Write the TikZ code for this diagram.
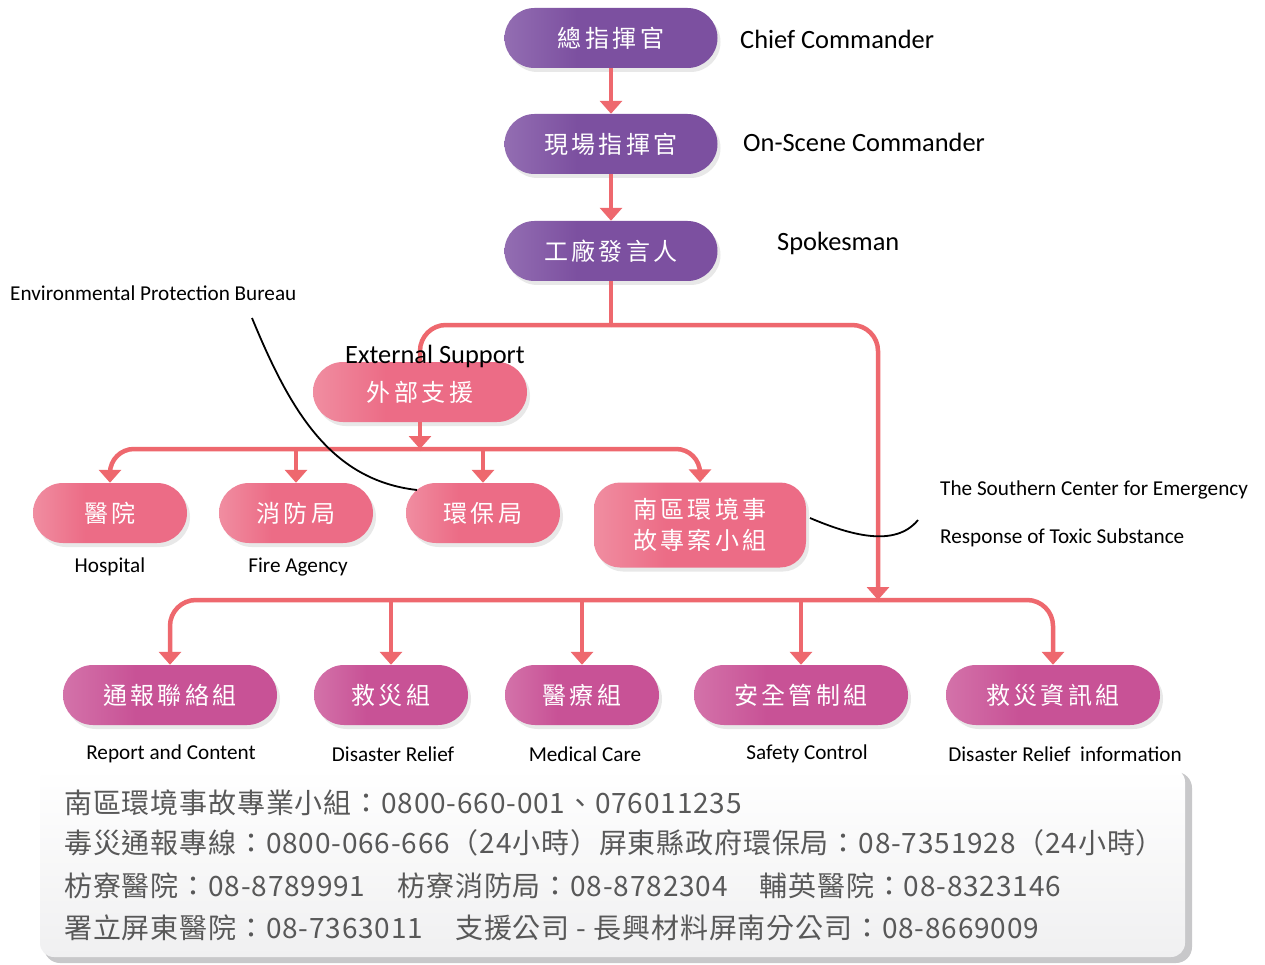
\documentclass[tikz,border=0pt]{standalone}
\usepackage{fontspec}
\setmainfont{Carlito}
\newfontfamily\cjk[LetterSpace=14]{Noto Sans CJK TC}
\newfontfamily\infofont[LetterSpace=3]{Noto Sans CJK TC}
\usetikzlibrary{arrows.meta,shadows}

\definecolor{linkred}{RGB}{238,104,110}
\definecolor{purpD}{RGB}{124,80,160}
\definecolor{purpL}{RGB}{180,152,204}
\definecolor{pinkD}{RGB}{236,108,134}
\definecolor{pinkL}{RGB}{246,190,200}
\definecolor{magD}{RGB}{200,82,150}
\definecolor{magL}{RGB}{228,162,198}
\definecolor{infotext}{RGB}{88,88,88}
\definecolor{boxedge}{RGB}{200,200,202}
\definecolor{boxfill}{RGB}{240,240,241}

\pgfdeclarehorizontalshading{purpshade}{100bp}{color(0bp)=(purpL); color(42bp)=(purpD); color(100bp)=(purpD)}
\pgfdeclarehorizontalshading{pinkshade}{100bp}{color(0bp)=(pinkL); color(42bp)=(pinkD); color(100bp)=(pinkD)}
\pgfdeclarehorizontalshading{magshade}{100bp}{color(0bp)=(magL); color(42bp)=(magD); color(100bp)=(magD)}

\begin{document}
\begin{tikzpicture}[x=1pt,y=-1pt,
  pill/.style={rounded corners=30pt, minimum height=60pt, inner sep=0pt,
    text=white, font=\cjk\fontsize{24}{30}\selectfont, align=center,
    drop shadow={opacity=0.18, shadow xshift=3pt, shadow yshift=-4pt}},
  cmdpill/.style={pill, shade, shading=purpshade, minimum width=213pt},
  extpill/.style={pill, shade, shading=pinkshade, minimum width=154pt},
  grppill/.style={pill, shade, shading=magshade, minimum width=154pt},
  biglabel/.style={font=\fontsize{26.4}{30}\selectfont, text=black, inner sep=0pt},
  smalllabel/.style={font=\fontsize{21.2}{25}\selectfont, text=black, inner sep=0pt},
  infoline/.style={font=\infofont\fontsize{28}{32}\selectfont, text=infotext, inner sep=0pt, anchor=west},
  link/.style={draw=linkred, line width=4.5pt},
  linkarrow/.style={link, -{Triangle[width=22pt,length=13pt]}},
  pointer/.style={draw=black, line width=1.8pt},
]
\fill[white] (0,0) rectangle (1265,965);
\useasboundingbox (0,0) rectangle (1265,965);

% ---- contact information panel ----
\fill[boxedge, rounded corners=16pt] (44,772) rectangle (1192,963);
\shade[top color=white, bottom color=boxfill, rounded corners=14pt] (40,768) rectangle (1185,957);

% ---- command chain ----
\node[cmdpill] (chief)   at (611,38)  {總指揮官};
\node[cmdpill] (onscene) at (611,144) {現場指揮官};
\node[cmdpill] (spokes)  at (611,251) {工廠發言人};

\node[biglabel, anchor=west] (chiefL)   at (740,39)  {Chief Commander};
\node[biglabel, anchor=west] (onsceneL) at (743,142) {On-Scene Commander};
\node[biglabel, anchor=west] (spokesL)  at (777,243) {Spokesman};

% ---- external support ----
\node[extpill, minimum width=214pt] (ext) at (420,392) {外部支援};
\node[extpill] (hosp) at (110,513) {醫院};
\node[extpill] (fire) at (296,513) {消防局};
\node[extpill] (epb)  at (483,513) {環保局};
\node[extpill, minimum width=212pt, minimum height=85pt, rounded corners=26pt,
      font=\cjk\fontsize{24}{31}\selectfont] (south) at (700,525) {南區環境事\\故專案小組};

\node[smalllabel] (hospL) at (110,567) {Hospital};
\node[smalllabel] (fireL) at (298,567) {Fire Agency};
\node[smalllabel, anchor=west] (epbL) at (10,293) {Environmental Protection Bureau};
\node[smalllabel, anchor=west] (southL1) at (940,490) {The Southern Center for Emergency};
\node[smalllabel, anchor=west] (southL2) at (940,538) {Response of Toxic Substance};

% ---- on-site groups ----
\node[grppill, minimum width=214pt] (g1) at (170,695)  {通報聯絡組};
\node[grppill]                      (g2) at (391,695)  {救災組};
\node[grppill]                      (g3) at (582,695)  {醫療組};
\node[grppill, minimum width=214pt] (g4) at (801,695)  {安全管制組};
\node[grppill, minimum width=214pt] (g5) at (1053,695) {救災資訊組};

\node[smalllabel] (g1L) at (171,754)  {Report and Content};
\node[smalllabel] (g2L) at (393,754)  {Disaster Relief};
\node[smalllabel] (g3L) at (585,754)  {Medical Care};
\node[smalllabel] (g4L) at (807,754)  {Safety Control};
\node[smalllabel] (g5L) at (1065,754) {Disaster Relief~ information};

% ---- connectors ----
\draw[linkarrow] (chief) -- (onscene);
\draw[linkarrow] (onscene) -- (spokes);

\coordinate (split) at (611,325);
\coordinate (groupbus) at (878,600);
\coordinate (extbus) at (420,449);

\draw[link] (spokes.south) -- (split);
\draw[link, rounded corners=26pt] (split) -| (ext.north);
\draw[linkarrow, rounded corners=26pt] (split) -| (groupbus);

\draw[linkarrow] (ext.south) -- (extbus);
\draw[linkarrow, rounded corners=24pt] (extbus) -| (hosp.north);
\draw[linkarrow, rounded corners=24pt] (extbus) -| (south.north);
\draw[linkarrow] (fire.north |- extbus) -- (fire.north);
\draw[linkarrow] (epb.north |- extbus) -- (epb.north);

\draw[linkarrow, rounded corners=26pt] (groupbus) -| (g1.north);
\draw[linkarrow, rounded corners=26pt] (groupbus) -| (g5.north);
\draw[linkarrow] (g2.north |- groupbus) -- (g2.north);
\draw[linkarrow] (g3.north |- groupbus) -- (g3.north);
\draw[linkarrow] (g4.north |- groupbus) -- (g4.north);

\node[biglabel] (extL) at (435,356) {External Support};

% ---- callout strokes ----
\coordinate (epbLead) at (252,318);
\coordinate (epbTip) at (417,490);
\draw[pointer] (epbLead) .. controls (290,410) and (330,480) .. (epbTip);
\coordinate (southTip) at (810,518);
\coordinate (southLead) at (918,520);
\draw[pointer] (southTip) .. controls (850,535) and (895,548) .. (southLead);

% ---- contact lines ----
\node[infoline] (info1) at (64,803) {南區環境事故專業小組：0800-660-001、076011235};
\node[infoline] (info2) at (64,843) {毒災通報專線：0800-066-666（24小時）屏東縣政府環保局：08-7351928（24小時）};
\node[infoline] (info3) at (64,886) {枋寮醫院：08-8789991\hspace{32pt}枋寮消防局：08-8782304\hspace{32pt}輔英醫院：08-8323146};
\node[infoline] (info4) at (64,928) {署立屏東醫院：08-7363011\hspace{32pt}支援公司 - 長興材料屏南分公司：08-8669009};
\end{tikzpicture}
\end{document}
